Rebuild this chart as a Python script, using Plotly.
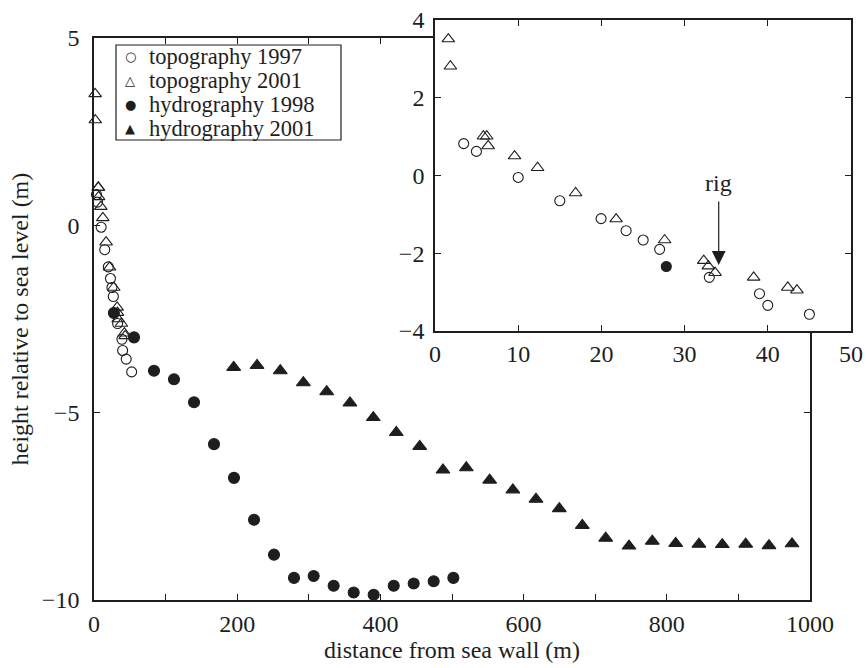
import plotly.graph_objects as go

# ---------------- data ----------------
# topography 1997 (open circles)
topo97_x = [3.45, 4.98, 10.0, 15.0, 19.96, 22.97, 25.02, 27.0, 32.97, 39.0, 40.0, 45.0, 52.6]
topo97_y = [0.82, 0.62, -0.05, -0.65, -1.11, -1.42, -1.66, -1.90, -2.62, -3.04, -3.34, -3.57, -3.91]

# topography 2001 (open triangles)
topo01_x = [1.6, 1.85, 5.82, 6.22, 6.39, 9.56, 12.33, 16.9, 21.77, 27.6, 32.3, 32.85, 33.66, 38.3, 42.4, 43.5]
topo01_y = [3.51, 2.81, 1.01, 1.01, 0.76, 0.50, 0.20, -0.45, -1.12, -1.66, -2.19, -2.33, -2.50, -2.62, -2.88, -2.95]

# hydrography 1998 (filled circles)
hyd98_x = [27.8, 55.9, 83.8, 111.7, 139.7, 167.6, 195.5, 223.5, 251.4, 279.3, 306.8,
           334.7, 362.7, 390.6, 418.6, 446.5, 474.4, 501.9]
hyd98_y = [-2.34, -2.99, -3.88, -4.11, -4.72, -5.84, -6.74, -7.86, -8.79, -9.41, -9.36,
           -9.62, -9.80, -9.86, -9.62, -9.56, -9.50, -9.41]

# hydrography 2001 (filled triangles)
hyd01_x = [195.1, 227.7, 260.2, 292.4, 325.0, 357.5, 390.1, 422.2, 454.9, 487.4, 520.0,
           552.6, 585.0, 617.3, 649.9, 682.0, 714.7, 747.2, 779.7, 812.4, 844.9, 877.5,
           910.2, 942.7, 974.9]
hyd01_y = [-3.79, -3.74, -3.88, -4.20, -4.44, -4.74, -5.13, -5.53, -5.90, -6.53, -6.47,
           -6.80, -7.06, -7.31, -7.56, -8.01, -8.35, -8.56, -8.43, -8.49, -8.51, -8.52,
           -8.51, -8.55, -8.50]

series_names = ["topography 1997", "topography 2001", "hydrography 1998", "hydrography 2001"]
legend_glyphs = ["○", "△", "●", "▲"]

main_xticks = [0, 200, 400, 600, 800, 1000]
main_yticks = [-10, -5, 0, 5]
inset_xticks = [0, 10, 20, 30, 40, 50]
inset_yticks = [-4, -2, 0, 2, 4]

rig_x = 34.1
rig_tip_y = -2.3
rig_tail_y = -0.63
rig_label_y = -0.2

# ---------------- style ----------------
INK = "#1e1e1e"
FONT = "Liberation Serif"
FS = 24
W, H = 866, 668

fig = go.Figure()

def add_series(x, y, name, symbol, size, xa, ya):
    fig.add_trace(go.Scatter(
        x=x, y=y, mode="markers", name=name, showlegend=False,
        xaxis=xa, yaxis=ya, cliponaxis=False,
        marker=dict(symbol=symbol, size=size, color=INK,
                    line=dict(color=INK, width=1.1)),
    ))

# main plot
add_series(topo97_x, topo97_y, series_names[0], "circle-open", 10, "x", "y")
add_series(topo01_x, topo01_y, series_names[1], "triangle-up-open", 11, "x", "y")
add_series(hyd98_x, hyd98_y, series_names[2], "circle", 11, "x", "y")
add_series(hyd01_x, hyd01_y, series_names[3], "triangle-up", 12, "x", "y")

# inset (only x <= 50)
def sub(xs, ys):
    pairs = [(a, b) for a, b in zip(xs, ys) if a <= 50]
    return [p[0] for p in pairs], [p[1] for p in pairs]

ix, iy = sub(topo97_x, topo97_y)
add_series(ix, iy, series_names[0], "circle-open", 10, "x2", "y2")
ix, iy = sub(topo01_x, topo01_y)
add_series(ix, iy, series_names[1], "triangle-up-open", 11, "x2", "y2")
ix, iy = sub(hyd98_x, hyd98_y)
add_series(ix, iy, series_names[2], "circle", 10, "x2", "y2")

axis_common = dict(
    showline=True, linecolor=INK, linewidth=1.6, mirror="ticks",
    ticks="inside", ticklen=6, tickwidth=1.2, tickcolor=INK,
    showgrid=False, zeroline=False,
    tickfont=dict(family=FONT, size=FS, color=INK),
)

fig.update_layout(
    width=W, height=H,
    margin=dict(l=0, r=0, t=0, b=0),
    paper_bgcolor="white", plot_bgcolor="white",
    font=dict(family=FONT, size=FS, color=INK),
    showlegend=False,
    xaxis=dict(domain=[94/W, 810/W], range=[0, 1000], tickvals=main_xticks,
               minor=dict(dtick=100, ticks="inside", ticklen=6, tickcolor=INK, tickwidth=1.2),
               title=dict(text="distance from sea wall (m)", standoff=6,
                          font=dict(family=FONT, size=FS, color=INK)),
               automargin=False, anchor="y", ticklabelstandoff=1, **axis_common),
    yaxis=dict(domain=[1-600/H, 1-38/H], range=[-10, 5], tickvals=main_yticks,
               title=dict(text="height relative to sea level (m)", standoff=6,
                          font=dict(family=FONT, size=FS, color=INK)),
               automargin=False, anchor="x", ticklabelstandoff=8, **axis_common),
    xaxis2=dict(domain=[435/W, 851/W], range=[0, 50], tickvals=inset_xticks,
                anchor="y2", automargin=False, ticklabelstandoff=0, **axis_common),
    yaxis2=dict(domain=[1-331/H, 1-20/H], range=[-4, 4], tickvals=inset_yticks,
                anchor="x2", automargin=False, ticklabelstandoff=4, **axis_common),
)

# legend box (drawn as text + frame)
lx0, lx1, ly0, ly1 = 116, 341, 45, 140
fig.add_shape(type="rect", xref="paper", yref="paper",
              x0=lx0/W, x1=lx1/W, y0=1-ly1/H, y1=1-ly0/H,
              line=dict(color=INK, width=1.2), fillcolor="white", layer="above")
row_h = (ly1 - ly0) / 4
for i, (g, name) in enumerate(zip(legend_glyphs, series_names)):
    yc = 1 - (ly0 + row_h * (i + 0.5)) / H
    fig.add_annotation(x=130/W, y=yc, xref="paper", yref="paper", text=g,
                       showarrow=False, xanchor="center", yanchor="middle",
                       font=dict(family="DejaVu Sans", size=13, color=INK))
    fig.add_annotation(x=147/W, y=yc, xref="paper", yref="paper", text=name,
                       showarrow=False, xanchor="left", yanchor="middle",
                       font=dict(family=FONT, size=22.5, color=INK))

fig.add_annotation(x=rig_x, y=rig_tip_y, ax=rig_x, ay=rig_tail_y,
                   xref="x2", yref="y2", axref="x2", ayref="y2",
                   text="", showarrow=True, arrowhead=2, arrowsize=2.3,
                   arrowwidth=1.2, arrowcolor=INK)
fig.add_annotation(x=rig_x, y=rig_label_y, xref="x2", yref="y2", text="rig",
                   showarrow=False, font=dict(family=FONT, size=FS, color=INK))

fig.write_html("out.html")
